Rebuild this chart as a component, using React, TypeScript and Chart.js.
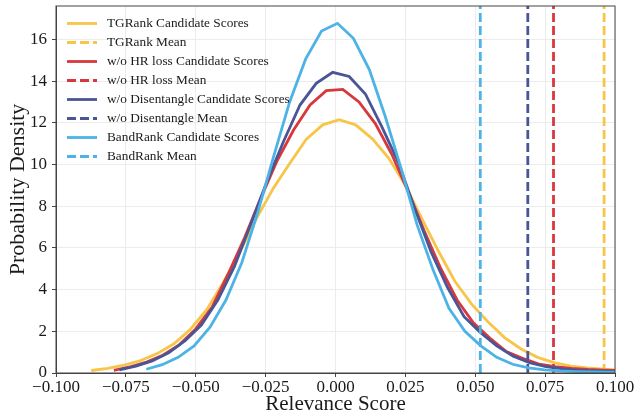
import { useEffect, useRef } from "react";
import { Chart, registerables } from "chart.js";

Chart.register(...registerables);

// ---- data ----
const SERIES_NAMES = ["TGRank", "w/o HR loss", "w/o Disentangle", "BandRank"];
const SERIES_COLORS = ["#F7C548", "#D8383C", "#4A5595", "#4DB3E6"];

const TG_X = [-0.0874, -0.0815, -0.0756, -0.0697, -0.0638, -0.0578, -0.0519, -0.046, -0.0401, -0.0342, -0.0283, -0.0223, -0.0164, -0.0105, -0.0046, 0.0013, 0.0072, 0.0132, 0.0191, 0.025, 0.0309, 0.0368, 0.0427, 0.0487, 0.0546, 0.0605, 0.0664, 0.0723, 0.0782, 0.0842, 0.0901, 0.096, 0.1019];
const TG_Y = [0.12, 0.22, 0.38, 0.6, 0.93, 1.4, 2.1, 3.05, 4.35, 5.8, 7.4, 8.85, 10.05, 11.2, 11.9, 12.15, 11.9, 11.23, 10.3, 9.0, 7.4, 5.85, 4.4, 3.3, 2.45, 1.7, 1.15, 0.75, 0.5, 0.33, 0.24, 0.18, 0.14];

const HR_X = [-0.0793, -0.0735, -0.0676, -0.0618, -0.0559, -0.0501, -0.0442, -0.0384, -0.0325, -0.0267, -0.0208, -0.015, -0.0091, -0.0033, 0.0026, 0.0084, 0.0143, 0.0201, 0.026, 0.0318, 0.0377, 0.0435, 0.0494, 0.0552, 0.0611, 0.0669, 0.0728, 0.0786, 0.0845, 0.0903, 0.0962, 0.102];
const HR_Y = [0.13, 0.3, 0.52, 0.85, 1.35, 2.1, 3.15, 4.75, 6.5, 8.4, 10.2, 11.65, 12.85, 13.54, 13.6, 13.0, 11.95, 10.5, 8.7, 6.8, 5.0, 3.5, 2.4, 1.68, 1.03, 0.7, 0.43, 0.3, 0.22, 0.17, 0.14, 0.12];

const DIS_X = [-0.0773, -0.0714, -0.0656, -0.0597, -0.0538, -0.048, -0.0421, -0.0362, -0.0304, -0.0245, -0.0186, -0.0127, -0.0069, -0.001, 0.0049, 0.0107, 0.0166, 0.0225, 0.0283, 0.0342, 0.0401, 0.046, 0.0518, 0.0577, 0.0636, 0.0694, 0.0753, 0.0812, 0.087, 0.0929, 0.0988, 0.1047];
const DIS_Y = [0.15, 0.33, 0.58, 0.97, 1.55, 2.3, 3.5, 5.1, 7.1, 9.2, 11.1, 12.85, 13.89, 14.42, 14.22, 13.38, 11.8, 10.1, 7.9, 5.8, 4.1, 2.7, 1.95, 1.3, 0.8, 0.5, 0.3, 0.2, 0.13, 0.1, 0.08, 0.06];

const BAND_X = [-0.0677, -0.062, -0.0563, -0.0506, -0.0449, -0.0392, -0.0335, -0.0278, -0.0221, -0.0164, -0.0107, -0.005, 0.0007, 0.0064, 0.0121, 0.0178, 0.0235, 0.0292, 0.0349, 0.0406, 0.0463, 0.052, 0.0577, 0.0634, 0.0691, 0.0748, 0.0805, 0.0862, 0.0919, 0.0976, 0.1033];
const BAND_Y = [0.18, 0.4, 0.75, 1.3, 2.2, 3.5, 5.3, 7.7, 10.4, 13.0, 15.05, 16.4, 16.77, 16.05, 14.55, 12.3, 9.8, 7.1, 4.95, 3.1, 2.0, 1.3, 0.75, 0.42, 0.25, 0.15, 0.1, 0.07, 0.05, 0.04, 0.03];

const MEANS = [0.0961, 0.078, 0.0688, 0.0518];

const X_TICKS = [-0.1, -0.075, -0.05, -0.025, 0, 0.025, 0.05, 0.075, 0.1];
const Y_TICKS = [0, 2, 4, 6, 8, 10, 12, 14, 16];
const X_MIN = -0.1;
const X_MAX = 0.1;
const Y_MAX = 17.6;

const CURVES_X = [TG_X, HR_X, DIS_X, BAND_X];
const CURVES_Y = [TG_Y, HR_Y, DIS_Y, BAND_Y];

const SERIF = '"Liberation Serif", "Times New Roman", "DejaVu Serif", serif';

function fmtX(v: number): string {
  const r = Math.round(v * 1000) / 1000;
  const s = Math.abs(r).toFixed(3);
  return r < 0 ? "\u2212" + s : s;
}

const framePlugin = {
  id: "frame",
  afterDatasetsDraw(chart: any) {
    const { ctx, chartArea } = chart;
    const { left, top, right, bottom } = chartArea;
    ctx.save();
    ctx.strokeStyle = "#444";
    ctx.lineWidth = 1;
    ctx.strokeRect(left, top, right - left, bottom - top);
    ctx.restore();
  },
};

const legendPlugin = {
  id: "insideLegend",
  afterDraw(chart: any) {
    const { ctx, chartArea } = chart;
    const datasets = chart.data.datasets;
    ctx.save();
    ctx.font = `13.3px ${SERIF}`;
    ctx.textBaseline = "middle";
    ctx.textAlign = "left";
    datasets.forEach((ds: any, i: number) => {
      const y = chartArea.top + 17.5 + i * 19;
      const x0 = chartArea.left + 11;
      const x1 = chartArea.left + 41;
      ctx.strokeStyle = ds.borderColor;
      ctx.lineWidth = 2.8;
      ctx.setLineDash(ds.borderDash || []);
      ctx.beginPath();
      ctx.moveTo(x0, y);
      ctx.lineTo(x1, y);
      ctx.stroke();
      ctx.setLineDash([]);
      ctx.fillStyle = "#1a1a1a";
      ctx.fillText(ds.label, chartArea.left + 51, y + 0.5);
    });
    ctx.restore();
  },
};

export default function App() {
  const ref = useRef<HTMLCanvasElement>(null);

  useEffect(() => {
    document.body.style.margin = "0";
    const datasets: any[] = [];
    SERIES_NAMES.forEach((name, s) => {
      datasets.push({
        label: `${name} Candidate Scores`,
        data: CURVES_X[s].map((x, i) => ({ x, y: CURVES_Y[s][i] })),
        borderColor: SERIES_COLORS[s],
        backgroundColor: SERIES_COLORS[s],
        borderWidth: 2.8,
        pointRadius: 0,
        tension: 0,
        fill: false,
        clip: 0,
      });
      datasets.push({
        label: `${name} Mean`,
        data: [
          { x: MEANS[s], y: 0 },
          { x: MEANS[s], y: Y_MAX },
        ],
        borderColor: SERIES_COLORS[s],
        backgroundColor: SERIES_COLORS[s],
        borderWidth: 2.8,
        borderDash: [9, 4],
        pointRadius: 0,
        tension: 0,
        fill: false,
        clip: 0,
      });
    });
    datasets.forEach((d, i) => (d.order = datasets.length - i));

    const chart = new Chart(ref.current!, {
      type: "line",
      data: { datasets },
      options: {
        responsive: false,
        animation: false,
        layout: { padding: { left: 0, top: 6, right: 22, bottom: 0 } },
        plugins: {
          legend: { display: false },
          tooltip: { enabled: false },
        },
        scales: {
          x: {
            type: "linear",
            min: X_MIN,
            max: X_MAX,
            afterBuildTicks: (scale: any) => {
              scale.ticks = X_TICKS.map((v) => ({ value: v }));
            },
            afterFit: (scale: any) => {
              scale.height = 47;
              scale.paddingLeft = 0;
              scale.paddingRight = 0;
            },
            ticks: {
              autoSkip: false,
              maxRotation: 0,
              padding: 0,
              color: "#1a1a1a",
              font: { family: SERIF, size: 17 },
              callback: (v: any) => fmtX(Number(v)),
            },
            grid: {
              color: "#ececec",
              lineWidth: 1,
              drawTicks: true,
              tickLength: 4,
              tickColor: "#444",
            },
            border: { display: true, color: "#444" },
            title: {
              display: true,
              text: "Relevance Score",
              color: "#1a1a1a",
              font: { family: SERIF, size: 21 },
              padding: { top: 0, bottom: 3 },
            },
          },
          y: {
            type: "linear",
            min: 0,
            max: Y_MAX,
            afterBuildTicks: (scale: any) => {
              scale.ticks = Y_TICKS.map((v) => ({ value: v }));
            },
            afterFit: (scale: any) => {
              scale.width = 56;
              scale.paddingTop = 0;
              scale.paddingBottom = 0;
            },
            ticks: {
              padding: 5,
              color: "#1a1a1a",
              font: { family: SERIF, size: 17 },
              callback: (v: any) => String(v),
            },
            grid: {
              color: "#ececec",
              lineWidth: 1,
              drawTicks: true,
              tickLength: 4,
              tickColor: "#444",
            },
            border: { display: true, color: "#444" },
            title: {
              display: true,
              text: "Probability Density",
              color: "#1a1a1a",
              font: { family: SERIF, size: 22 },
              padding: { top: 5, bottom: 0 },
            },
          },
        },
      } as any,
      plugins: [framePlugin, legendPlugin],
    });
    return () => chart.destroy();
  }, []);

  return (
    <div style={{ width: 637, height: 420 }}>
      <canvas ref={ref} width={637} height={420} style={{ display: "block" }} />
    </div>
  );
}
